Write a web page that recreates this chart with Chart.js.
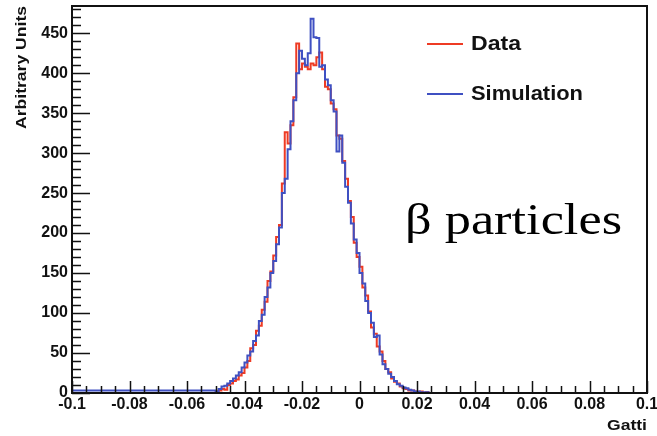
<!DOCTYPE html>
<html>
<head>
<meta charset="utf-8">
<script src="https://cdn.jsdelivr.net/npm/chart.js@4.4.1/dist/chart.umd.min.js"></script>
<style>
html,body{margin:0;padding:0;background:#fff;}
canvas{display:block;}
</style>
</head>
<body>
<canvas id="c" width="657" height="436"></canvas>
<script>
// histogram bins: low edge = binStart + i*binWidth
const binStart = -0.05, binWidth = 0.001;
const dataCounts = [0,2,3,5,4,10,12,15,17,22, 25,32,40,56,60,78,84,104,114,140,
  152,172,195,210,262,326,312,335,370,437, 405,412,408,405,412,410,420,426,405,383,
  380,362,355,322,318,290,268,240,220,188, 170,158,132,122,102,82,74,58,52,40,
  30,26,18,14,12,8,6,5,3,3, 2,1,2,0,1];
const simCounts = [3,2,5,8,9,12,15,18,22,26, 32,38,47,52,65,72,90,98,120,132,
  150,165,186,207,250,268,305,340,366,400, 428,418,410,425,468,445,444,408,410,392,
  385,366,352,302,322,288,258,238,212,192, 175,150,137,115,100,88,70,72,48,36,
  30,24,20,15,11,9,7,6,4,3, 2,2,1,1,1];
const seriesNames = ['Data', 'Simulation'];
const seriesColors = ['#ee3b24', '#3f50c2'];
const xRange = [-0.1, 0.1], yRange = [0, 484];

function toSteps(counts){
  const pts=[{x:xRange[0], y:0}];
  counts.forEach((c,i)=>pts.push({x:binStart+i*binWidth, y:c}));
  pts.push({x:binStart+counts.length*binWidth, y:0});
  pts.push({x:xRange[1], y:0});
  return pts;
}

// draw text squeezed/stretched to a given width
function fitText(ctx, t, x, y, w){
  const m=ctx.measureText(t).width;
  ctx.save(); ctx.translate(x, y); ctx.scale(w/m, 1); ctx.fillText(t, 0, 0); ctx.restore();
}

const rootFrame = {
  id:'rootFrame',
  afterDatasetsDraw(chart){
    const {ctx, chartArea:a, scales:{x,y}} = chart;
    ctx.save();
    ctx.strokeStyle='#111'; ctx.lineWidth=1.5;
    // inward ticks
    ctx.beginPath();
    for(let v=0; v<=yRange[1]; v+=10){
      const py=Math.round(y.getPixelForValue(v))+0.5;
      const len = v%50===0 ? 18 : 9;
      ctx.moveTo(a.left, py); ctx.lineTo(a.left+len, py);
    }
    for(let i=0;i<=40;i++){
      const v=xRange[0]+i*0.005;
      const px=Math.round(x.getPixelForValue(v))+0.5;
      const len = i%4===0 ? 12 : 7;
      ctx.moveTo(px, a.bottom); ctx.lineTo(px, a.bottom-len);
    }
    ctx.stroke();
    ctx.lineWidth=2;
    ctx.strokeRect(a.left, a.top, a.right-a.left, a.bottom-a.top);
    // legend
    ctx.font='bold 21px "Liberation Sans", Arial, sans-serif';
    ctx.textBaseline='middle'; ctx.fillStyle='#111';
    [44, 94].forEach((ly,i)=>{
      ctx.strokeStyle=seriesColors[i]; ctx.lineWidth=2;
      ctx.beginPath(); ctx.moveTo(427, ly); ctx.lineTo(463, ly); ctx.stroke();
      fitText(ctx, seriesNames[i], 471, ly, i===0 ? 50 : 112);
    });
    // annotation
    ctx.font='44px "Liberation Serif", "Times New Roman", serif';
    ctx.fillStyle='#000'; ctx.textBaseline='middle';
    fitText(ctx, '\u03b2 particles', 405, 222, 217);
    // axis titles
    ctx.font='bold 15px "Liberation Sans", Arial, sans-serif';
    ctx.fillStyle='#111'; ctx.textBaseline='middle';
    fitText(ctx, 'Gatti', 607, 426, 40);
    ctx.save(); ctx.translate(22, a.top+123); ctx.rotate(-Math.PI/2);
    fitText(ctx, 'Arbitrary Units', 0, 0, 123);
    ctx.restore();
    ctx.restore();
  }
};

const tickFont = {family:'"Liberation Sans", Arial, sans-serif', size:16, weight:'bold'};

new Chart(document.getElementById('c'), {
  type:'line',
  data:{ datasets:[
    {label:seriesNames[0], data:toSteps(dataCounts), borderColor:seriesColors[0], borderWidth:2, stepped:'after', pointRadius:0, fill:false, order:2},
    {label:seriesNames[1], data:toSteps(simCounts), borderColor:seriesColors[1], borderWidth:2, stepped:'after', pointRadius:0, fill:false, order:1}
  ]},
  options:{
    responsive:false, animation:false, devicePixelRatio:1,
    layout:{padding:{left:0, right:10, top:6, bottom:0}},
    plugins:{legend:{display:false}, tooltip:{enabled:false}},
    scales:{
      x:{type:'linear', min:xRange[0], max:xRange[1],
        grid:{display:false, drawTicks:false}, border:{display:false},
        ticks:{stepSize:0.02, padding:2, color:'#111', font:tickFont, maxRotation:0,
          callback:v=>{ const r=Math.round(v*100)/100; return r===0?'0':String(r); }},
        afterFit:s=>{ s.height=43; s.paddingLeft=0; s.paddingRight=0; }},
      y:{type:'linear', min:yRange[0], max:yRange[1],
        grid:{display:false, drawTicks:false}, border:{display:false},
        ticks:{stepSize:50, includeBounds:false, padding:4, color:'#111', font:tickFont},
        afterFit:s=>{ s.width=72; s.paddingTop=0; s.paddingBottom=0; }}
    }
  },
  plugins:[rootFrame]
});
</script>
</body>
</html>
